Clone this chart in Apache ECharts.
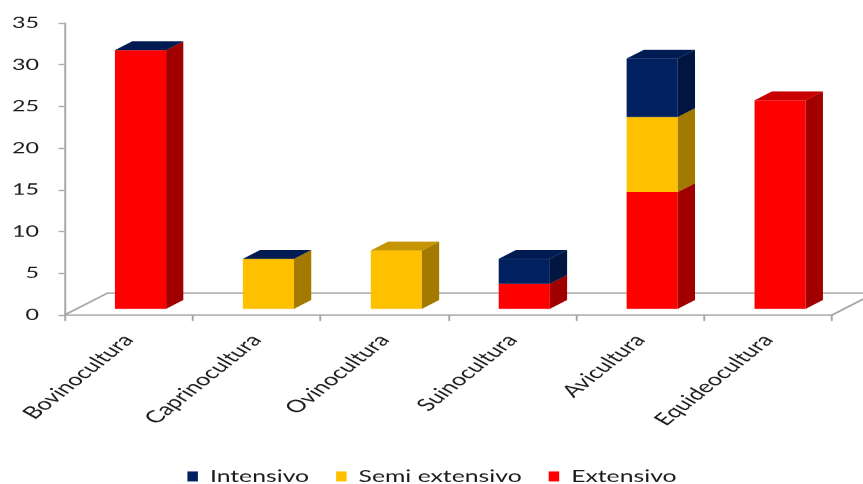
<!DOCTYPE html>
<html>
<head>
<meta charset="utf-8">
<script src="https://cdn.jsdelivr.net/npm/echarts@6/dist/echarts.min.js"></script>
<style>
  html, body { margin: 0; padding: 0; background: #fff; overflow: hidden; }
  #wrap { width: 863px; height: 484px; overflow: hidden; }
  #chart { width: 576px; height: 484px; transform: scaleX(1.5); transform-origin: 0 0; }
</style>
</head>
<body>
<div id="wrap"><div id="chart"></div></div>
<script>
// ---- data ----
const categories = ['Bovinocultura', 'Caprinocultura', 'Ovinocultura', 'Suinocultura', 'Avicultura', 'Equideocultura'];
const extensivo     = [31, null, null, 3, 14, 25];
const semiExtensivo = [null, 6, 7, null, 9, null];
const intensivo     = [0, 0, null, 3, 7, null];
const yTicks = [0, 5, 10, 15, 20, 25, 30, 35];

// ---- styling ----
const FONT = 'Lato';
const DEPTH_X = 28.7, DEPTH_Y = -22;   // floor depth vector (chart units, before stretch)
const BAR_FRONT = 0.28, BAR_DEPTH = 0.4, BAR_W = 0.4;
const palettes = {
  'Extensivo':      { front: '#ff0000', side: '#a00000', top: '#c80000' },
  'Semi extensivo': { front: '#ffc000', side: '#a27a00', top: '#c69400' },
  'Intensivo':      { front: '#002060', side: '#001540', top: '#001a52' }
};

const seriesDefs = [
  { name: 'Extensivo', values: extensivo },
  { name: 'Semi extensivo', values: semiExtensivo },
  { name: 'Intensivo', values: intensivo }
];

// Build stacked items: [catIndex, base, value, isTop]
function buildData(k) {
  const out = [];
  for (let i = 0; i < categories.length; i++) {
    const v = seriesDefs[k].values[i];
    if (v === null || v === undefined) continue;
    let base = 0;
    for (let j = 0; j < k; j++) {
      const b = seriesDefs[j].values[i];
      if (b) base += b;
    }
    let isTop = 1;
    for (let j = k + 1; j < seriesDefs.length; j++) {
      const a = seriesDefs[j].values[i];
      if (a !== null && a !== undefined) isTop = 0;
    }
    out.push([i, base, v, isTop]);
  }
  return out;
}

function makeRender(pal) {
  return function (params, api) {
    const i = api.value(0), base = api.value(1), val = api.value(2), isTop = api.value(3);
    const catW = api.size([1, 0])[0];
    const w = catW * BAR_W;
    const p0 = api.coord([i, base]);
    const p1 = api.coord([i, base + val]);
    const ox = DEPTH_X * BAR_FRONT, oy = DEPTH_Y * BAR_FRONT;
    const dx = DEPTH_X * BAR_DEPTH, dy = DEPTH_Y * BAR_DEPTH;
    const xl = p0[0] - w / 2 + ox, xr = xl + w;
    const yb = p0[1] + oy, yt = p1[1] + oy;
    const children = [];
    if (yb - yt > 0.01) {
      children.push({ type: 'rect', shape: { x: xl, y: yt, width: w, height: yb - yt }, style: { fill: pal.front } });
      children.push({ type: 'polygon', shape: { points: [[xr, yb], [xr + dx, yb + dy], [xr + dx, yt + dy], [xr, yt]] }, style: { fill: pal.side } });
    }
    if (isTop) {
      children.push({ type: 'polygon', shape: { points: [[xl, yt], [xl + dx, yt + dy], [xr + dx, yt + dy], [xr, yt]] }, style: { fill: pal.top } });
    }
    return { type: 'group', children: children };
  };
}

const series = [{
  type: 'custom',
  name: 'floor',
  silent: true,
  clip: false,
  z: 0,
  data: [[0, 0]],
  renderItem: function (params, api) {
    const c = params.coordSys;
    const x0 = c.x, x1 = c.x + c.width, y0 = c.y + c.height;
    return {
      type: 'polyline',
      shape: { points: [[x0, y0], [x0 + DEPTH_X, y0 + DEPTH_Y], [x1 + DEPTH_X, y0 + DEPTH_Y], [x1, y0]] },
      style: { stroke: '#a6a6a6', lineWidth: 1.5, fill: null }
    };
  }
}];

seriesDefs.forEach(function (s, k) {
  series.push({
    type: 'custom',
    name: s.name,
    clip: false,
    z: 2 + k,
    itemStyle: { color: palettes[s.name].front },
    data: buildData(k),
    renderItem: makeRender(palettes[s.name])
  });
});

const chart = echarts.init(document.getElementById('chart'), null, { renderer: 'canvas', devicePixelRatio: 1.5 });
chart.setOption({
  animation: false,
  backgroundColor: '#ffffff',
  grid: { left: 43, right: 21.3, top: 23, bottom: 169, containLabel: false },
  legend: {
    data: ['Intensivo', 'Semi extensivo', 'Extensivo'],
    left: 'center',
    top: 463,
    icon: 'rect',
    itemWidth: 7,
    itemHeight: 10,
    itemGap: 18,
    textStyle: { fontFamily: FONT, fontSize: 16.5, color: '#1a1a1a', padding: [0, 0, 0, 3] }
  },
  xAxis: {
    type: 'category',
    data: categories,
    axisLine: { show: true, lineStyle: { color: '#a6a6a6', width: 1.5 } },
    axisTick: { show: true, length: 6, lineStyle: { color: '#a6a6a6', width: 1.3 } },
    axisLabel: { rotate: 50, margin: 22, fontFamily: FONT, fontSize: 17, color: '#1a1a1a', interval: 0 },
    splitLine: { show: false }
  },
  yAxis: {
    type: 'value',
    min: yTicks[0],
    max: yTicks[yTicks.length - 1],
    interval: yTicks[1] - yTicks[0],
    axisLine: { show: true, lineStyle: { color: '#a6a6a6', width: 1.3 } },
    axisTick: { show: true, length: 4, lineStyle: { color: '#a6a6a6', width: 1.3 } },
    axisLabel: { margin: 17, fontFamily: FONT, fontSize: 15.5, color: '#1a1a1a' },
    splitLine: { show: false }
  },
  series: series
});
</script>
</body>
</html>
